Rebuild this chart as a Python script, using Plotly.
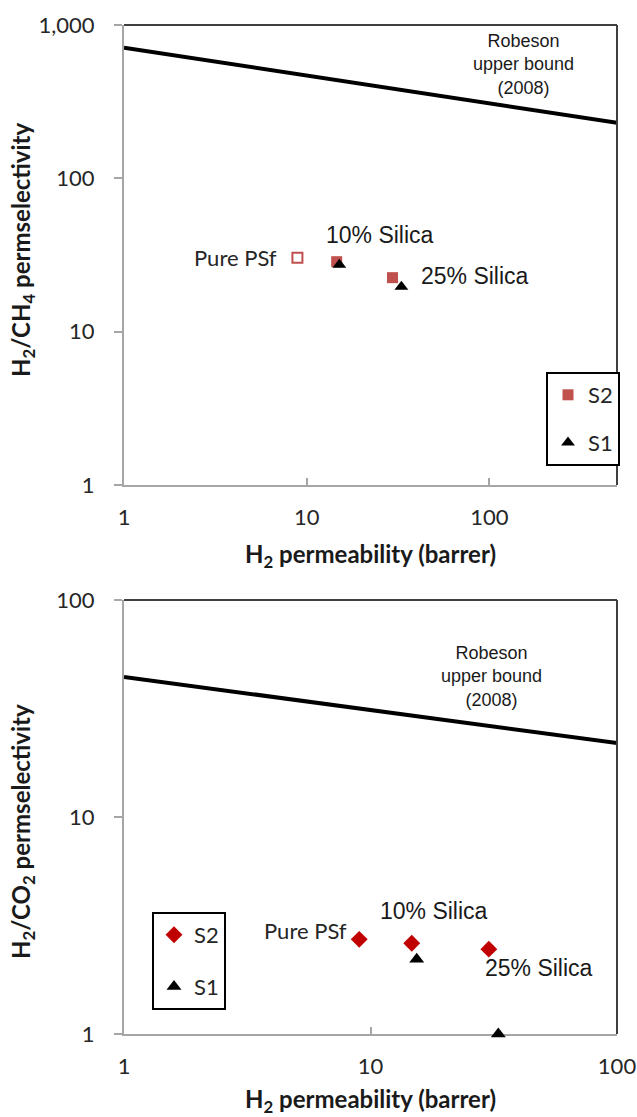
import math
import plotly.graph_objects as go

# ---- H2/CH4 panel data ----
ch4_pure_x = [8.9]
ch4_pure_y = [30.3]
ch4_s2_x = [14.6, 29.5]
ch4_s2_y = [28.6, 22.5]
ch4_s1_x = [15.1, 33.0]
ch4_s1_y = [27.3, 19.6]
ch4_bound_x = [1, 500]
ch4_bound_y = [711, 230]

# ---- H2/CO2 panel data ----
co2_pure_x = [9.0]
co2_pure_y = [2.73]
co2_s2_x = [14.7, 30.2]
co2_s2_y = [2.62, 2.46]
co2_s1_x = [15.4, 33.0]
co2_s1_y = [2.21, 1.0]
co2_bound_x = [1, 100]
co2_bound_y = [44.2, 21.9]

point_labels = ["10% Silica", "25% Silica"]
x_ticks = [1, 10, 100]
y_ticks_top = [1, 10, 100, 1000]
y_ticktext_top = ["1", "10", "100", "1,000"]
y_ticks_bot = [1, 10, 100]

W, H = 637, 1117
TICK_FONT = dict(family="Lato", size=22, color="#262626")
ARIAL = "Liberation Sans"

fig = go.Figure()

# top panel
fig.add_trace(go.Scatter(x=ch4_bound_x, y=ch4_bound_y, mode="lines",
                         line=dict(color="black", width=4), showlegend=False,
                         xaxis="x", yaxis="y"))
fig.add_trace(go.Scatter(x=ch4_s2_x, y=ch4_s2_y, mode="markers", name="S2",
                         legendgroup="S2",
                         marker=dict(symbol="square", size=11, color="#C0504D"),
                         xaxis="x", yaxis="y", legend="legend", cliponaxis=False))
fig.add_trace(go.Scatter(x=ch4_s1_x, y=ch4_s1_y, mode="markers", name="S1",
                         legendgroup="S1",
                         marker=dict(symbol="triangle-up", size=12, color="black"),
                         xaxis="x", yaxis="y", legend="legend", cliponaxis=False))
fig.add_trace(go.Scatter(x=ch4_pure_x, y=ch4_pure_y, mode="markers", showlegend=False,
                         marker=dict(symbol="square-open", size=10, color="#C0504D",
                                     line=dict(width=2)),
                         xaxis="x", yaxis="y", cliponaxis=False))

# bottom panel
fig.add_trace(go.Scatter(x=co2_bound_x, y=co2_bound_y, mode="lines",
                         line=dict(color="black", width=4), showlegend=False,
                         xaxis="x2", yaxis="y2"))
fig.add_trace(go.Scatter(x=co2_s2_x, y=co2_s2_y, mode="markers", name="S2",
                         legendgroup="S2b",
                         marker=dict(symbol="diamond", size=13, color="#C00000"),
                         xaxis="x2", yaxis="y2", legend="legend2", cliponaxis=False))
fig.add_trace(go.Scatter(x=co2_s1_x, y=co2_s1_y, mode="markers", name="S1",
                         legendgroup="S1b",
                         marker=dict(symbol="triangle-up", size=13, color="black"),
                         xaxis="x2", yaxis="y2", legend="legend2", cliponaxis=False))
fig.add_trace(go.Scatter(x=co2_pure_x, y=co2_pure_y, mode="markers", showlegend=False,
                         marker=dict(symbol="diamond", size=13, color="#C00000"),
                         xaxis="x2", yaxis="y2", cliponaxis=False))

axis_common = dict(type="log", showgrid=False, zeroline=False, showline=True,
                   linecolor="#a6a6a6", linewidth=2, tickcolor="#a6a6a6",
                   tickwidth=1.5, tickfont=TICK_FONT, automargin=False,
                   layer="below traces")

xdom = [124 / W, 617 / W]
fig.update_layout(
    width=W, height=H,
    margin=dict(l=0, r=0, t=0, b=0, autoexpand=False),
    paper_bgcolor="white", plot_bgcolor="white",
    xaxis=dict(axis_common, domain=xdom, range=[0, math.log10(500)],
               tickvals=x_ticks, ticktext=[str(v) for v in x_ticks],
               ticks="inside", ticklen=7, ticklabelstandoff=12, anchor="y"),
    yaxis=dict(axis_common, domain=[1 - 485 / H, 1 - 25 / H], range=[0, 3],
               tickvals=y_ticks_top, ticktext=y_ticktext_top,
               ticks="outside", ticklen=8, ticklabelstandoff=15, anchor="x"),
    xaxis2=dict(axis_common, domain=xdom, range=[0, 2],
                tickvals=x_ticks, ticktext=[str(v) for v in x_ticks],
                ticks="inside", ticklen=7, ticklabelstandoff=12, anchor="y2"),
    yaxis2=dict(axis_common, domain=[1 - 1034 / H, 1 - 600 / H], range=[0, 2],
                tickvals=y_ticks_bot, ticktext=[str(v) for v in y_ticks_bot],
                ticks="outside", ticklen=8, ticklabelstandoff=15, anchor="x2"),
    legend=dict(x=546 / W, y=1 - 372 / H, xanchor="left", yanchor="top",
                bordercolor="black", borderwidth=2, bgcolor="white",
                font=dict(family="Lato", size=22, color="#262626"),
                tracegroupgap=16, itemwidth=30),
    legend2=dict(x=152 / W, y=1 - 912 / H, xanchor="left", yanchor="top",
                 bordercolor="black", borderwidth=2, bgcolor="white",
                 font=dict(family="Lato", size=22, color="#262626"),
                 tracegroupgap=20, itemwidth=30),
)

# dark frame on the top and right sides of each panel
for xr, yr in (("x", "y"), ("x2", "y2")):
    fig.add_shape(type="line", xref=f"{xr} domain", yref=f"{yr} domain",
                  x0=0, x1=1, y0=1, y1=1, line=dict(color="#404040", width=2))
    fig.add_shape(type="line", xref=f"{xr} domain", yref=f"{yr} domain",
                  x0=1, x1=1, y0=0, y1=1, line=dict(color="#404040", width=2))

L = math.log10
LABEL_FONT = dict(family=ARIAL, size=23, color="#1a1a1a")
PSF_FONT = dict(family="Lato", size=22, color="#262626")
ann = []
# point labels, top panel
ann.append(dict(x=L(ch4_pure_x[0]), y=L(ch4_pure_y[0]), xref="x", yref="y",
                text="Pure PSf", xanchor="right", yanchor="middle", xshift=-18,
                font=PSF_FONT, showarrow=False))
ann.append(dict(x=L(ch4_s2_x[0]), y=L(ch4_s2_y[0]), xref="x", yref="y",
                text=point_labels[0], xanchor="center", yanchor="middle",
                xshift=43, yshift=27, font=LABEL_FONT, showarrow=False))
ann.append(dict(x=L(ch4_s2_x[1]), y=L(ch4_s2_y[1]), xref="x", yref="y",
                text=point_labels[1], xanchor="left", yanchor="middle",
                xshift=27, yshift=2, font=LABEL_FONT, showarrow=False))
# point labels, bottom panel
ann.append(dict(x=L(co2_pure_x[0]), y=L(co2_pure_y[0]), xref="x2", yref="y2",
                text="Pure PSf", xanchor="right", yanchor="middle",
                xshift=-10, yshift=9, font=PSF_FONT, showarrow=False))
ann.append(dict(x=L(co2_s2_x[0]), y=L(co2_s2_y[0]), xref="x2", yref="y2",
                text=point_labels[0], xanchor="center", yanchor="middle",
                xshift=22, yshift=32, font=LABEL_FONT, showarrow=False))
ann.append(dict(x=L(co2_s2_x[1]), y=L(co2_s2_y[1]), xref="x2", yref="y2",
                text=point_labels[1], xanchor="left", yanchor="middle",
                xshift=-6, yshift=-19, font=LABEL_FONT, showarrow=False))

# upper bound captions
for cx, cy in ((523, 65), (491, 676)):
    ann.append(dict(x=cx / W, y=1 - cy / H, xref="paper", yref="paper",
                    text="Robeson<br>upper bound<br>(2008)", showarrow=False,
                    xanchor="center", yanchor="middle", align="center",
                    font=dict(family=ARIAL, size=18, color="#1a1a1a")))

# axis titles
TITLE_FONT = dict(family="Lato", size=24, color="#1a1a1a")
for cy in (555, 1100):
    ann.append(dict(x=370 / W, y=1 - cy / H, xref="paper", yref="paper",
                    text="<b>H<sub>2</sub> permeability (barrer)</b>", showarrow=False,
                    xanchor="center", yanchor="middle", font=TITLE_FONT))
ann.append(dict(x=22 / W, y=1 - 250 / H, xref="paper", yref="paper",
                text="<b>H<sub>2</sub>/CH<sub>4</sub> permselectivity</b>", showarrow=False,
                textangle=-90, xanchor="center", yanchor="middle", font=TITLE_FONT))
ann.append(dict(x=22 / W, y=1 - 832 / H, xref="paper", yref="paper",
                text="<b>H<sub>2</sub>/CO<sub>2</sub> permselectivity</b>", showarrow=False,
                textangle=-90, xanchor="center", yanchor="middle", font=TITLE_FONT))

fig.update_layout(annotations=ann)
# page body without default margin so the fixed-size figure fills the window
fig.write_html("out.html", post_script="document.body.style.margin='0';")
